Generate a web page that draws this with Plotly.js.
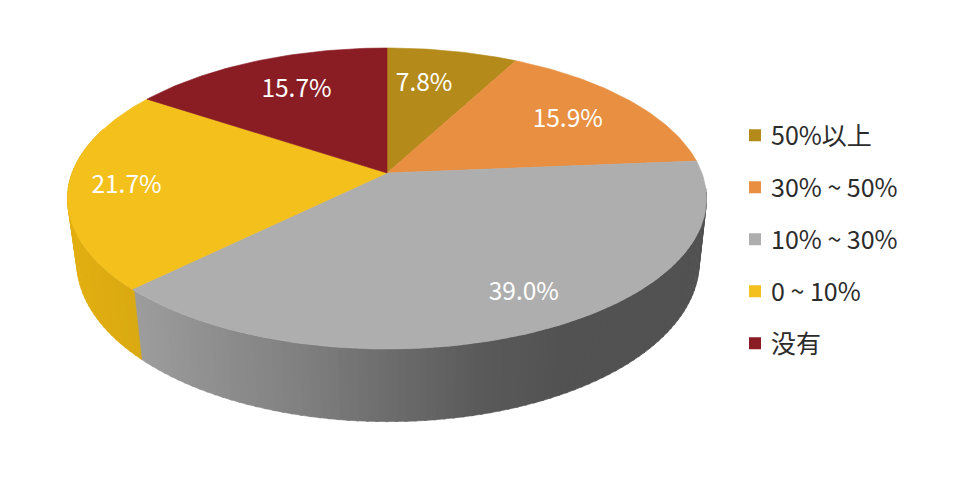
<!DOCTYPE html>
<html>
<head>
<meta charset="utf-8">
<script src="https://cdn.plot.ly/plotly-3.0.1.min.js"></script>
<style>html,body{margin:0;padding:0;background:#fff}#chart{width:980px;height:500px}</style>
</head>
<body>
<div id="chart"></div>
<script>
// Data
const categories = ['50%以上', '30% ~ 50%', '10% ~ 30%', '0 ~ 10%', '没有'];
const shares = [7.8, 15.9, 39.0, 21.7, 15.7];
const sliceColors = ['#b48a1a', '#e88f42', '#aeaeae', '#f3c01c', '#8a1c24'];
// Label placement within each slice: radius fraction, angle nudge in degrees
const labelRadius = [0.70, 0.73, 0.81, 0.82, 0.71];
const labelNudge = [-3.2, 0.4, -3.5, 0, 1.6];
// Side wall shading by screen x
const greyRampX = [130, 200, 300, 380, 480, 560, 720];
const greyRampV = [158, 145, 128, 110, 90, 82, 82];
const yellowRampX = [60, 135];
const yellowRampRGB = [[228, 176, 16], [218, 170, 18]];

// Projection of a tilted disc onto the axes (axes are in picture units)
const P = 0.1694;
const topFace = {cx: 387, cy: 173, a: 314.9, b: 146.2};
const rimFace = {cx: 388, cy: 235, a: 306.7, b: 155};
const labelFace = {cx: 387, cy: 175, a: 314.9, b: 146.2};
function proj(face, deg, r) {
  if (r === undefined) r = 1;
  const t = deg * Math.PI / 180, u = r * Math.sin(t), v = r * Math.cos(t), d = 1 + P * v;
  return [face.cx + face.a * u / d, face.cy - face.b * v / d];
}
function lerp(xs, ys, x) {
  if (x <= xs[0]) return ys[0];
  for (let i = 1; i < xs.length; i++) {
    if (x <= xs[i]) return ys[i - 1] + (ys[i] - ys[i - 1]) * (x - xs[i - 1]) / (xs[i] - xs[i - 1]);
  }
  return ys[ys.length - 1];
}
const total = shares.reduce((s, v) => s + v, 0);
const bounds = [0];
shares.forEach(v => bounds.push(bounds[bounds.length - 1] + v / total * 360));

const traces = [];
function poly(xs, ys, color) {
  traces.push({type: 'scatter', mode: 'lines', x: xs, y: ys, fill: 'toself', fillcolor: color,
    line: {color: color, width: 0.6}, hoverinfo: 'skip', showlegend: false});
}

// Side wall strips: front part of the rim, drawn before the top surface
const step = 1.5, wallStart = 96, wallEnd = 288;
for (let d = wallStart; d < wallEnd; d += step) {
  const a = proj(topFace, d), b = proj(topFace, d + step + 0.4), c = proj(rimFace, d + step + 0.4), e = proj(rimFace, d);
  const midX = (a[0] + c[0]) / 2;
  let color;
  if (d + step / 2 < bounds[3]) {
    const g = Math.round(lerp(greyRampX, greyRampV, midX));
    color = `rgb(${g},${g},${g})`;
  } else {
    const rgb = [0, 1, 2].map(k => Math.round(lerp(yellowRampX, yellowRampRGB.map(s => s[k]), midX)));
    color = `rgb(${rgb[0]},${rgb[1]},${rgb[2]})`;
  }
  poly([a[0], b[0], c[0], e[0], a[0]], [a[1], b[1], c[1], e[1], a[1]], color);
}

// Top surface slices
shares.forEach((v, i) => {
  const xs = [topFace.cx], ys = [topFace.cy];
  for (let d = bounds[i]; d < bounds[i + 1]; d += 1) {
    const p = proj(topFace, d); xs.push(p[0]); ys.push(p[1]);
  }
  const last = proj(topFace, bounds[i + 1]);
  xs.push(last[0], topFace.cx); ys.push(last[1], topFace.cy);
  poly(xs, ys, sliceColors[i]);
});

// Value labels
const lab = shares.map((v, i) => proj(labelFace, (bounds[i] + bounds[i + 1]) / 2 + labelNudge[i], labelRadius[i]));
traces.push({type: 'scatter', mode: 'text', x: lab.map(p => p[0]), y: lab.map(p => p[1]),
  text: shares.map(v => v.toFixed(1) + '%'), textposition: 'middle center',
  textfont: {family: '"Noto Sans CJK TC", "Noto Sans", sans-serif', size: 24.5, color: '#ffffff'},
  hoverinfo: 'skip', showlegend: false});

// Legend entries
categories.forEach((c, i) => {
  traces.push({type: 'scatter', mode: 'markers', x: [null], y: [null], name: c, legendgroup: 'g' + i,
    marker: {symbol: 'square', size: 15, color: sliceColors[i]}, hoverinfo: 'skip'});
});

const layout = {
  width: 980, height: 500, margin: {l: 0, r: 0, t: 0, b: 0},
  paper_bgcolor: '#fff', plot_bgcolor: '#fff',
  xaxis: {range: [0, 980], visible: false, fixedrange: true},
  yaxis: {range: [500, 0], visible: false, fixedrange: true},
  showlegend: true,
  legend: {x: 0.75, y: 0.775, xanchor: 'left', yanchor: 'top', bgcolor: 'rgba(0,0,0,0)',
    tracegroupgap: 16.5, itemsizing: 'constant',
    font: {family: '"Noto Sans CJK TC", "Noto Sans", sans-serif', size: 25, color: '#2b2b2b'}}
};
Plotly.newPlot('chart', traces, layout, {displayModeBar: false, staticPlot: true}).then(gd => {
  gd.querySelectorAll('.legendtext').forEach(t => t.setAttribute('x', +t.getAttribute('x') - 4));
});
</script>
</body>
</html>
